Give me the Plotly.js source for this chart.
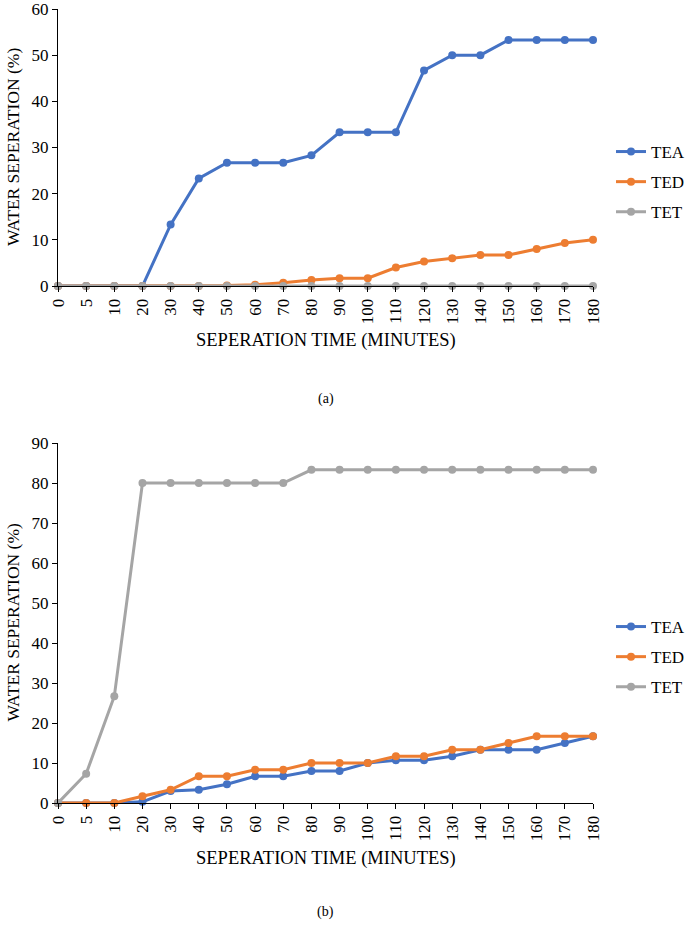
<!DOCTYPE html>
<html>
<head>
<meta charset="utf-8">
<script src="https://cdn.plot.ly/plotly-3.0.1.min.js"></script>
<style>html,body{margin:0;padding:0;background:#fff;}#chart{width:685px;height:927px;}</style>
</head>
<body>
<div id="chart"></div>
<script>
// Separation time categories (minutes)
const times = ["0","5","10","20","30","40","50","60","70","80","90","100","110","120","130","140","150","160","170","180"];
const yTicks = [0,10,20,30,40,50,60,70,80,90];

// Panel (a)
const teaA = [0,0,0,0,13.3,23.3,26.7,26.7,26.7,28.3,33.3,33.3,33.3,46.7,50,50,53.3,53.3,53.3,53.3];
const tedA = [0,0,0,0,0,0,0.1,0.3,0.7,1.3,1.7,1.7,4,5.3,6,6.7,6.7,8,9.3,10];
const tetA = [0,0,0,0,0,0,0,0,0,0,0,0,0,0,0,0,0,0,0,0];

// Panel (b)
const teaB = [0,0,0,0.3,3,3.3,4.7,6.7,6.7,8,8,10,10.7,10.7,11.7,13.3,13.3,13.3,15,16.7];
const tedB = [0,0,0,1.7,3.3,6.7,6.7,8.3,8.3,10,10,10,11.7,11.7,13.3,13.3,15,16.7,16.7,16.7];
const tetB = [0,7.3,26.7,80,80,80,80,80,80,83.3,83.3,83.3,83.3,83.3,83.3,83.3,83.3,83.3,83.3,83.3];

const seriesNames = ["TEA","TED","TET"];
const colors = ["#4472C4","#ED7D31","#A5A5A5"];
const FONT = "Liberation Serif";
const FS = 17;

function mk(name, y, color, xa, ya, leg) {
  return {
    type: "scatter", mode: "lines+markers", name: name, x: times, y: y,
    xaxis: xa, yaxis: ya, legend: leg, legendgroup: leg + name,
    line: {color: color, width: 3}, marker: {color: color, size: 8},
    cliponaxis: false
  };
}

const data = [
  mk(seriesNames[0], teaA, colors[0], "x", "y", "legend"),
  mk(seriesNames[1], tedA, colors[1], "x", "y", "legend"),
  mk(seriesNames[2], tetA, colors[2], "x", "y", "legend"),
  mk(seriesNames[0], teaB, colors[0], "x2", "y2", "legend2"),
  mk(seriesNames[1], tedB, colors[1], "x2", "y2", "legend2"),
  mk(seriesNames[2], tetB, colors[2], "x2", "y2", "legend2")
];

const xBase = {
  type: "category", range: [0, times.length - 1], showgrid: false, zeroline: false,
  showline: true, linecolor: "#000", linewidth: 1, ticks: "outside", ticklen: 5,
  tickcolor: "#000", tickangle: -90, tickfont: {family: FONT, size: FS, color: "#000"},
  ticklabeloverflow: "allow", fixedrange: true
};
const yBase = {
  showgrid: false, zeroline: false, showline: true, linecolor: "#000", linewidth: 1,
  ticks: "outside", ticklen: 5, tickcolor: "#000", tickfont: {family: FONT, size: FS, color: "#000"},
  ticklabeloverflow: "allow", fixedrange: true
};

const legBase = {xref: "container", yref: "container", x: 0.892, xanchor: "left", yanchor: "middle",
  itemwidth: 30, tracegroupgap: 5, font: {family: FONT, size: FS, color: "#000"}, bgcolor: "rgba(0,0,0,0)"};

const layout = {
  width: 685, height: 927,
  margin: {l: 58, r: 92, t: 9, b: 124},
  paper_bgcolor: "#fff", plot_bgcolor: "#fff",
  font: {family: FONT, size: FS, color: "#000"},
  xaxis: Object.assign({}, xBase, {anchor: "y"}),
  yaxis: Object.assign({}, yBase, {domain: [0.6511, 1], range: [0, 60], tickvals: yTicks.slice(0, 7), anchor: "x"}),
  xaxis2: Object.assign({}, xBase, {anchor: "y2"}),
  yaxis2: Object.assign({}, yBase, {domain: [0, 0.4534], range: [0, 90], tickvals: yTicks, anchor: "x2"}),
  legend: Object.assign({}, legBase, {y: 1 - 182 / 927}),
  legend2: Object.assign({}, legBase, {y: 1 - 657 / 927}),
  showlegend: true,
  annotations: [
    {text: "WATER SEPERATION (%)", xref: "paper", yref: "paper", x: -0.085, y: 0.8255, textangle: -90,
     showarrow: false, xanchor: "center", yanchor: "middle", font: {family: FONT, size: 17.5}},
    {text: "WATER SEPERATION (%)", xref: "paper", yref: "paper", x: -0.085, y: 0.2267, textangle: -90,
     showarrow: false, xanchor: "center", yanchor: "middle", font: {family: FONT, size: 17.5}},
    {text: "SEPERATION TIME (MINUTES)", xref: "paper", yref: "paper", x: 0.5, y: 0.5823,
     showarrow: false, xanchor: "center", yanchor: "middle", font: {family: FONT, size: 18.5}},
    {text: "SEPERATION TIME (MINUTES)", xref: "paper", yref: "paper", x: 0.5, y: -0.0693,
     showarrow: false, xanchor: "center", yanchor: "middle", font: {family: FONT, size: 18.5}},
    {text: "(a)", xref: "paper", yref: "paper", x: 0.5, y: 0.5093,
     showarrow: false, xanchor: "center", yanchor: "middle", font: {family: FONT, size: 14}},
    {text: "(b)", xref: "paper", yref: "paper", x: 0.5, y: -0.1373,
     showarrow: false, xanchor: "center", yanchor: "middle", font: {family: FONT, size: 14}}
  ]
};

Plotly.newPlot("chart", data, layout, {displayModeBar: false, staticPlot: true});
</script>
</body>
</html>
